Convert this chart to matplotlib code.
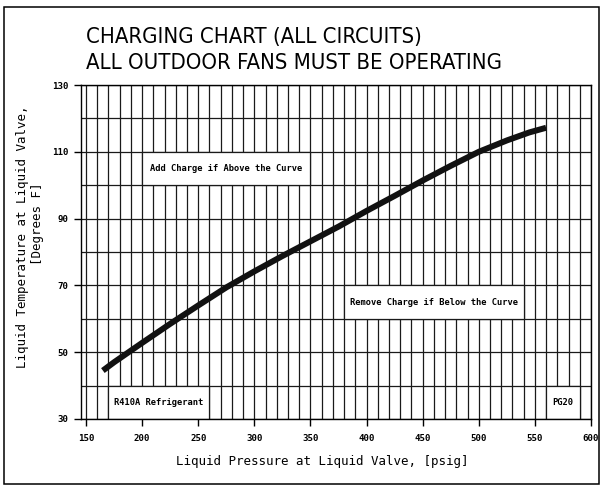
import matplotlib
matplotlib.use("Agg")
import matplotlib.pyplot as plt
from matplotlib import font_manager
from matplotlib.font_manager import FontProperties
from matplotlib.patches import Rectangle

# charging curve (psig -> deg F)
pressure = [165, 175, 200, 225, 250, 275, 300, 325, 350, 375, 400,
            425, 450, 475, 500, 525, 545, 560]
temperature = [44.5, 47.0, 52.8, 58.5, 64.0, 69.4, 74.2, 78.8, 83.2, 87.6, 92.3,
               96.8, 101.4, 105.8, 110.0, 113.4, 115.8, 117.2]

x_ticks = [150, 200, 250, 300, 350, 400, 450, 500, 550, 600]
y_ticks = [30, 50, 70, 90, 110, 130]

title_lines = ["CHARGING CHART (ALL CIRCUITS)", "ALL OUTDOOR FANS MUST BE OPERATING"]
x_label = "Liquid Pressure at Liquid Valve, [psig]"
y_label = ["Liquid Temperature at Liquid Valve,", "[Degrees F]"]

# note boxes: (text, x0, x1, y0, y1)
notes = [
    ("Add Charge if Above the Curve", 200, 350, 100, 110),
    ("Remove Charge if Below the Curve", 380, 540, 60, 70),
    ("R410A Refrigerant", 170, 260, 30, 40),
    ("PG20", 560, 590, 30, 40),
]

mono = "DejaVu Sans Mono"

# look for a narrow face for the title, else fall back to mono
narrow = None
for f in font_manager.fontManager.ttflist:
    if f.style != "normal":
        continue
    if ("Narrow" in f.name or "Condensed" in f.name
            or f.stretch in ("condensed", "semi-condensed", "extra-condensed", 500, 600)):
        w = f.weight if isinstance(f.weight, int) else 400
        if narrow is None or abs(w - 350) < abs(narrow[1] - 350):
            narrow = (f.fname, w)
if narrow is not None:
    title_prop = FontProperties(fname=narrow[0], size=15.8)
else:
    title_prop = FontProperties(family=mono, size=14.4)

W, H = 602, 487
fig = plt.figure(figsize=(W / 100, H / 100), dpi=100)

# outer frame
fig.patches.append(Rectangle((4 / W, 1 - 484 / H), 595 / W, 477 / H, transform=fig.transFigure,
                             fill=False, edgecolor="black", linewidth=1.1))

ax = fig.add_axes([81 / W, 1 - 419 / H, 510 / W, 334 / H])
ax.set_xlim(145.5, 600)
ax.set_ylim(30, 130)

ax.set_xticks(x_ticks)
ax.set_xticks(range(150, 601, 10), minor=True)
ax.set_yticks(y_ticks)
ax.set_yticks(range(30, 131, 10), minor=True)
ax.tick_params(which="minor", length=0)
ax.tick_params(which="major", direction="out", length=5, width=1, color="black",
               labelsize=6.6, pad=4)
ax.tick_params(axis="x", pad=6)
ax.tick_params(top=False, right=False)
for lab in ax.get_xticklabels() + ax.get_yticklabels():
    lab.set_fontfamily(mono)
    lab.set_fontweight("bold")

ax.set_axisbelow(True)
ax.grid(which="both", color="#1a1a1a", linewidth=0.9)
for s in ax.spines.values():
    s.set_linewidth(1.0)
    s.set_color("black")

for text, x0, x1, y0, y1 in notes:
    ax.add_patch(Rectangle((x0, y0), x1 - x0, y1 - y0, facecolor="white",
                           edgecolor="#1a1a1a", linewidth=0.9, zorder=2))
    ax.text((x0 + x1) / 2, (y0 + y1) / 2, text, ha="center", va="center",
            fontsize=6.3, fontweight="bold", family=mono, zorder=3)

ax.plot(pressure, temperature, color="#111111", linewidth=4.3,
        solid_capstyle="butt", zorder=4)

fig.text(86 / W, 1 - 43 / H, title_lines[0], fontproperties=title_prop,
         ha="left", va="baseline")
fig.text(86 / W, 1 - 69 / H, title_lines[1], fontproperties=title_prop,
         ha="left", va="baseline")

fig.text(322.5 / W, 1 - 461 / H, x_label, fontsize=9, family=mono,
         ha="center", va="center")
fig.text(23 / W, 1 - 237 / H, y_label[0], fontsize=9, family=mono,
         ha="center", va="center", rotation=90)
fig.text(37 / W, 1 - 224 / H, y_label[1], fontsize=9, family=mono,
         ha="center", va="center", rotation=90)

fig.savefig("out.png", dpi=100)
